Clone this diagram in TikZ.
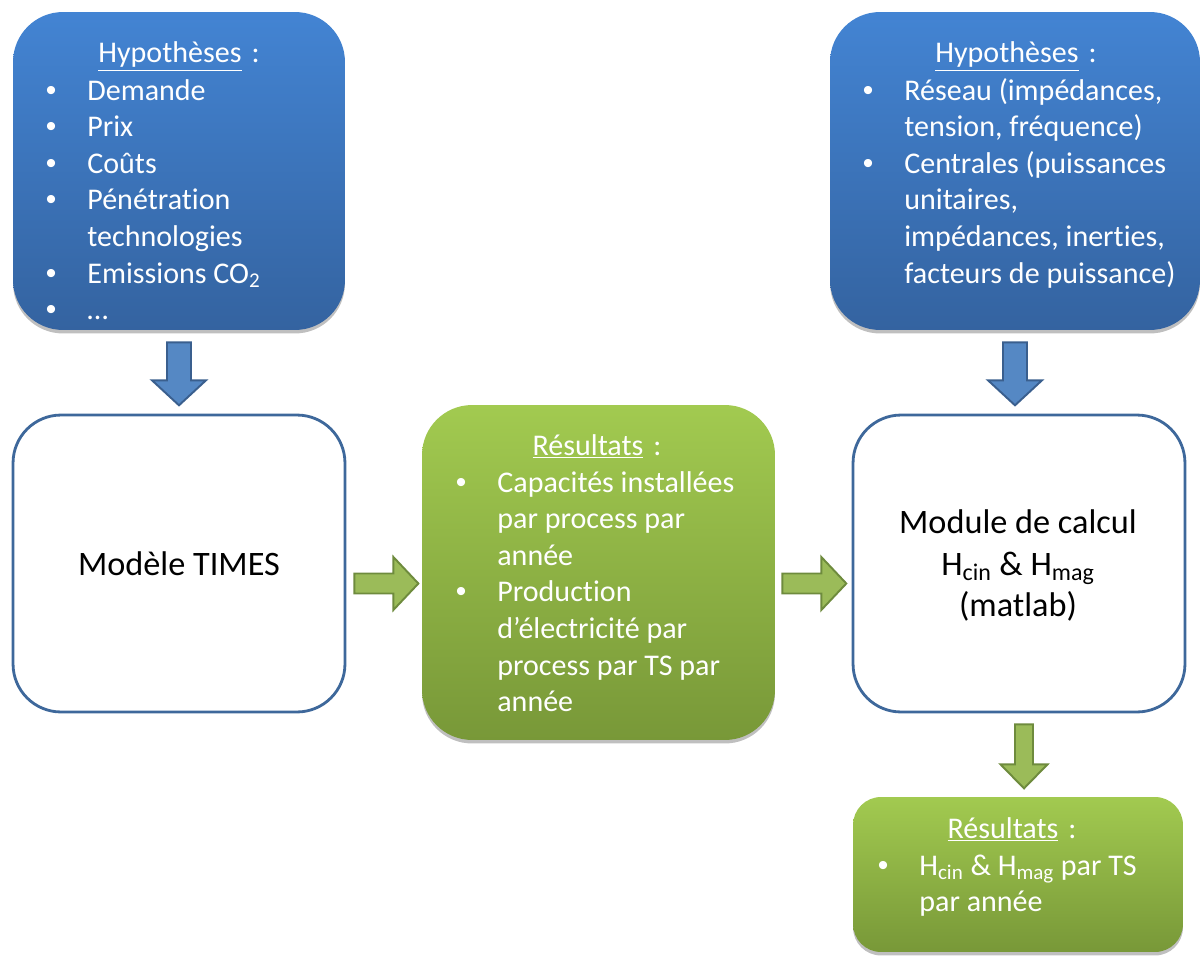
\documentclass[tikz,border=0pt]{standalone}
\usepackage{fontspec}
\setmainfont{Carlito}[Ligatures={NoCommon}]
\newfontfamily\bulfont{Liberation Sans}
\usetikzlibrary{shadows,calc}
\definecolor{bluetop}{HTML}{4384D3}
\definecolor{bluebot}{HTML}{3463A0}
\definecolor{greentop}{HTML}{A2CA50}
\definecolor{greenbot}{HTML}{789838}
\definecolor{boxline}{HTML}{3E689B}
\definecolor{arrbluefill}{HTML}{5588C4}
\definecolor{arrblueline}{HTML}{3A5F8E}
\definecolor{arrgreenfill}{HTML}{9BBB59}
\definecolor{arrgreenline}{HTML}{6E8B3D}
\newcommand{\fsz}{\fontsize{17.1pt}{20.8pt}\selectfont}
\newcommand{\fszb}{\fontsize{19.5pt}{23.8pt}\selectfont}
\newcommand{\bitem}{\makebox[0.86cm][l]{\hspace*{0.03cm}{\bulfont •}}}
\newcommand{\bcont}{\hspace*{0.86cm}}
\newcommand{\head}[1]{\underline{#1}\hspace{0.2cm}:}
\tikzset{
  shad/.style={drop shadow={shadow xshift=0pt, shadow yshift=-0.07cm, opacity=0.25, fill=black}},
  bluebox/.style={shad, rounded corners=1cm, top color=bluetop, bottom color=bluebot, draw=none},
  greenbox/.style={shad, rounded corners=1cm, top color=greentop, bottom color=greenbot, draw=none},
  whitebox/.style={rounded corners=0.96cm, fill=white, draw=boxline, line width=1.6pt},
  txt/.style={inner sep=0pt, font=\fsz, text=white},
  txtb/.style={inner sep=0pt, font=\fszb, text=black},
  arrblue/.style={fill=arrbluefill, draw=arrblueline, line width=1.1pt, line join=miter},
  arrgreen/.style={fill=arrgreenfill, draw=arrgreenline, line width=1.1pt, line join=miter},
  bluedown/.pic={\draw[arrblue] (-12,0) -- (12,0) -- (12,38) -- (27,38) -- (0,63) -- (-27,38) -- (-12,38) -- cycle;},
  greendown/.pic={\draw[arrgreen] (-9,0) -- (9,0) -- (9,40) -- (23.5,40) -- (0,64) -- (-23.5,40) -- (-9,40) -- cycle;},
  greenright/.pic={\draw[arrgreen] (0,-10) -- (39,-10) -- (39,-26.5) -- (64,0) -- (39,26.5) -- (39,10) -- (0,10) -- cycle;},
}
\begin{document}
\begin{tikzpicture}[x=0.02cm,y=-0.02cm]
\useasboundingbox (0,0) rectangle (1203,956);

% boxes
\node[bluebox, minimum width=6.64cm, minimum height=6.36cm] (h1) at (179,171) {};
\node[bluebox, minimum width=7.4cm, minimum height=6.36cm] (h2) at (1015,171) {};
\node[whitebox, minimum width=6.64cm, minimum height=5.94cm] (times) at (179,563.5) {};
\node[greenbox, minimum width=7.06cm, minimum height=6.7cm] (res1) at (598.5,572.5) {};
\node[whitebox, minimum width=6.64cm, minimum height=5.94cm] (mod) at (1019,563.5) {};
\node[greenbox, rounded corners=0.56cm, minimum width=6.6cm, minimum height=3.1cm] (res2) at (1018,874.5) {};

% arrows
\pic at ($(h1.south)+(0,12)$) {bluedown};
\pic at ($(h2.south)+(0,12)$) {bluedown};
\pic at ($(times.east)+(8,20)$) {greenright};
\pic at ($(res1.east)+(7,11)$) {greenright};
\pic at ($(mod.south)+(5,11)$) {greendown};

% texts: left hypotheses
\node[txt, anchor=base] (h1h) at (179,63) {\head{Hypothèses}};
\node[txt, anchor=north west, align=left] (h1l) at (44,74.4) {\strut\bitem Demande\\ \bitem Prix\\ \bitem Coûts\\ \bitem Pénétration\\ \bcont technologies\\ \bitem Emissions CO\textsubscript{2}\\ \bitem …};

% right hypotheses
\node[txt, anchor=base] (h2h) at (1016,63) {\head{Hypothèses}};
\node[txt, anchor=north west, align=left] (h2l) at (861,74.4) {\strut\bitem Réseau (impédances,\\ \bcont tension, fréquence)\\ \bitem Centrales (puissances\\ \bcont unitaires,\\ \bcont impédances, inerties,\\ \bcont facteurs de puissance)};

% TIMES
\node[txtb, anchor=base] (timest) at (179,575) {Modèle TIMES};

% results middle
\node[txt, anchor=base] (r1h) at (597,455) {\head{Résultats}};
\node[txt, anchor=north west, align=left] (r1l) at (454,466.4) {\strut\bitem Capacités installées\\ \bcont par process par\\ \bcont année\\ \bitem Production\\ \bcont d’électricité par\\ \bcont process par TS par\\ \bcont année};

% module
\node[txtb, anchor=north, align=center] (modt) at (1018,503.6) {\strut Module de calcul\\ H\textsubscript{cin} \& H\textsubscript{mag}\\ (matlab)};

% results bottom
\node[txt, anchor=base] (r2h) at (1012,838) {\head{Résultats}};
\node[txt, anchor=north west, align=left] (r2l) at (876,849.4) {\strut\bitem H\textsubscript{cin} \& H\textsubscript{mag} par TS\\ \bcont par année};
\end{tikzpicture}
\end{document}
